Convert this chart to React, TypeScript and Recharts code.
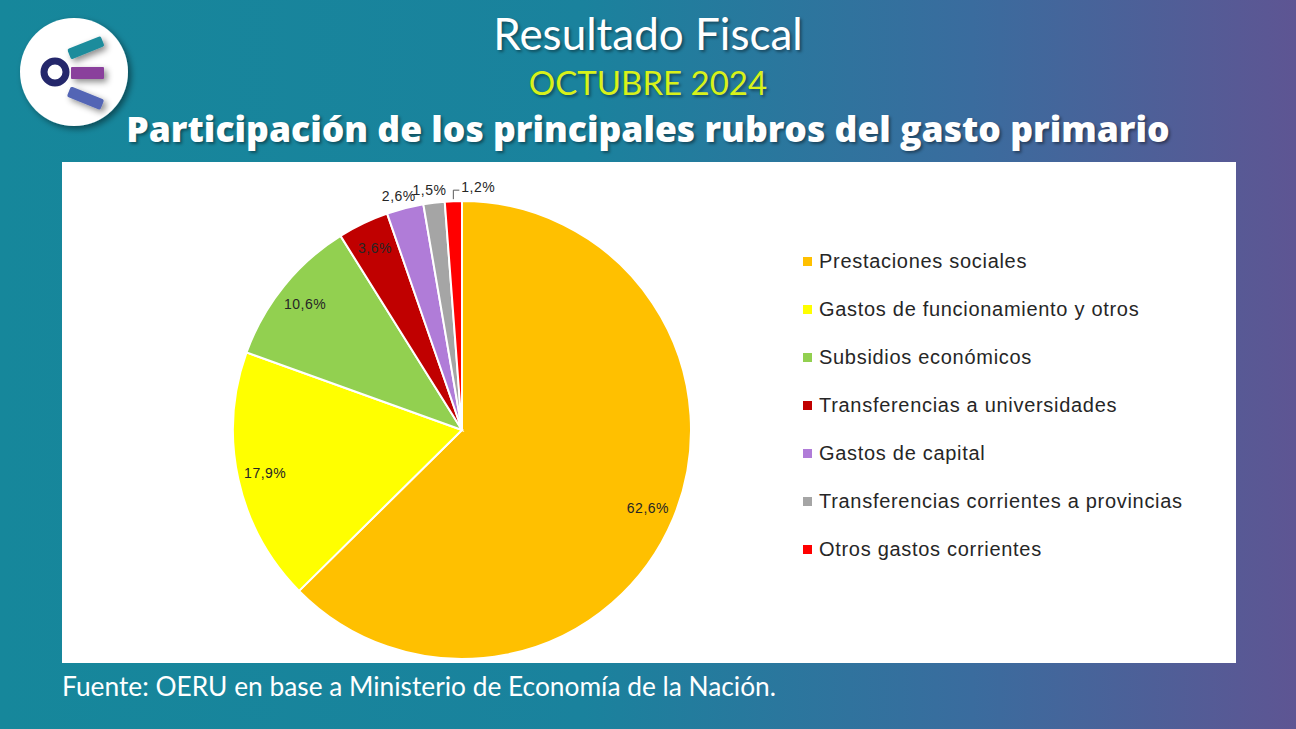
import React from 'react';
import { PieChart, Pie, Cell, Legend } from 'recharts';

const categories = [
    'Prestaciones sociales',
    'Gastos de funcionamiento y otros',
    'Subsidios económicos',
    'Transferencias a universidades',
    'Gastos de capital',
    'Transferencias corrientes a provincias',
    'Otros gastos corrientes',
];
const shares = [62.6, 17.9, 10.6, 3.6, 2.6, 1.5, 1.2];
const colors = ['#FFC000', '#FFFF00', '#92D050', '#C00000', '#B07CD8', '#A5A5A5', '#FF0000'];

const chartData = categories.map((name, i) => ({ name, value: shares[i] }));

const RAD = Math.PI / 180;
const fmt = (v: number) => v.toFixed(1).replace('.', ',') + '%';

const renderLabel = (props: any) => {
    const { cx, cy, midAngle, outerRadius, value, index } = props;
    const cos = Math.cos(-midAngle * RAD);
    const sin = Math.sin(-midAngle * RAD);
    const textStyle = { fontFamily: '"Liberation Sans", Arial, sans-serif', fontSize: 14, letterSpacing: 0.5, fill: '#262626' };

    // big slices: label inside, near the rim
    if (value >= 3) {
        const r = outerRadius * 0.88;
        return (
            <text x={cx + r * cos} y={cy + r * sin} textAnchor="middle" dominantBaseline="central" style={textStyle}>
                {fmt(value)}
            </text>
        );
    }
    // last thin slice gets a bracket leader
    if (index === shares.length - 1) {
        const x = cx + (outerRadius + 1) * cos;
        const y0 = cy + (outerRadius + 2) * sin;
        const y1 = cy + (outerRadius + 11) * sin;
        return (
            <g>
                <polyline points={`${x},${y0} ${x},${y1} ${x + 6},${y1}`} fill="none" stroke="#595959" strokeWidth={1} />
                <text x={x + 8} y={y1 - 3} textAnchor="start" dominantBaseline="central" style={textStyle}>
                    {fmt(value)}
                </text>
            </g>
        );
    }
    const r = outerRadius + 13;
    return (
        <text x={cx + r * cos - 3} y={cy + r * sin} textAnchor="middle" dominantBaseline="central" style={textStyle}>
            {fmt(value)}
        </text>
    );
};

const renderLegend = () => (
    <div style={{ fontFamily: '"Liberation Sans", Arial, sans-serif', fontSize: 20, letterSpacing: 0.7, color: '#262626' }}>
        {categories.map((name, i) => (
            <div key={name} style={{ display: 'flex', alignItems: 'center', height: 48 }}>
                <span style={{ width: 9, height: 9, background: colors[i], marginRight: 7, display: 'inline-block' }} />
                <span style={{ whiteSpace: 'nowrap' }}>{name}</span>
            </div>
        ))}
    </div>
);

const Logo = () => (
    <svg width={130} height={130} style={{ position: 'absolute', left: 9, top: 7 }}>
        <defs>
            <filter id="sh" x="-30%" y="-30%" width="160%" height="160%">
                <feDropShadow dx="3" dy="3" stdDeviation="3" floodColor="#000" floodOpacity="0.45" />
            </filter>
        </defs>
        <circle cx={65} cy={65} r={54} fill="#fff" filter="url(#sh)" />
        <g filter="url(#sh)">
            <rect x={60} y={42} width={36} height={11} rx={2} fill="#1d8c9c" transform="rotate(-22 60 47)" />
            <rect x={62} y={60} width={33} height={12} rx={1} fill="#8a3f9c" />
            <rect x={60} y={79} width={36} height={11} rx={2} fill="#5265b5" transform="rotate(22 60 84)" />
        </g>
        <circle cx={46} cy={65} r={11} fill="#fff" stroke="#24276b" strokeWidth={7} />
    </svg>
);

const App: React.FC = () => {
    return (
        <div
            style={{
                position: 'fixed',
                left: 0,
                top: 0,
                width: 1296,
                height: 729,
                overflow: 'hidden',
                background: 'linear-gradient(90deg, #16879b 0%, #1a829d 45%, #3a6c9e 75%, #5e5593 100%)',
            }}
        >
            <Logo />
            <div style={{ position: 'absolute', left: 0, width: 1296, top: 7, textAlign: 'center', color: '#fff', fontFamily: 'Lato, sans-serif', fontSize: 44, textShadow: '2px 2px 3px rgba(0,0,0,0.4)' }}>
                Resultado Fiscal
            </div>
            <div style={{ position: 'absolute', left: 0, width: 1296, top: 62, textAlign: 'center', color: '#d8f21a', fontFamily: 'Lato, sans-serif', fontSize: 33, textShadow: '2px 2px 3px rgba(0,0,0,0.4)' }}>
                OCTUBRE 2024
            </div>
            <div style={{ position: 'absolute', left: 0, width: 1296, top: 104, textAlign: 'center', color: '#fff', fontFamily: '"Open Sans", sans-serif', fontWeight: 800, fontSize: 35.5, textShadow: '2px 2px 3px rgba(0,0,0,0.4)' }}>
                Participación de los principales rubros del gasto primario
            </div>
            <div style={{ position: 'absolute', left: 62, top: 162, width: 1174, height: 501, background: '#fff' }}>
                <PieChart width={1174} height={501}>
                    <Pie
                        data={chartData}
                        dataKey="value"
                        nameKey="name"
                        cx={395}
                        cy={263}
                        outerRadius={229}
                        startAngle={90}
                        endAngle={-270}
                        stroke="#fff"
                        strokeWidth={2}
                        label={renderLabel}
                        labelLine={false}
                        isAnimationActive={false}
                    >
                        {chartData.map((d, i) => (
                            <Cell key={d.name} fill={colors[i]} />
                        ))}
                    </Pie>
                    <Legend
                        layout="vertical"
                        content={renderLegend}
                        wrapperStyle={{ position: 'absolute', left: 741, top: 75, width: 430, bottom: 'auto' }}
                    />
                </PieChart>
            </div>
            <div style={{ position: 'absolute', left: 62, top: 670, color: '#fff', fontFamily: 'Lato, sans-serif', fontSize: 26.3 }}>
                Fuente: OERU en base a Ministerio de Economía de la Nación.
            </div>
        </div>
    );
};

export default App;
